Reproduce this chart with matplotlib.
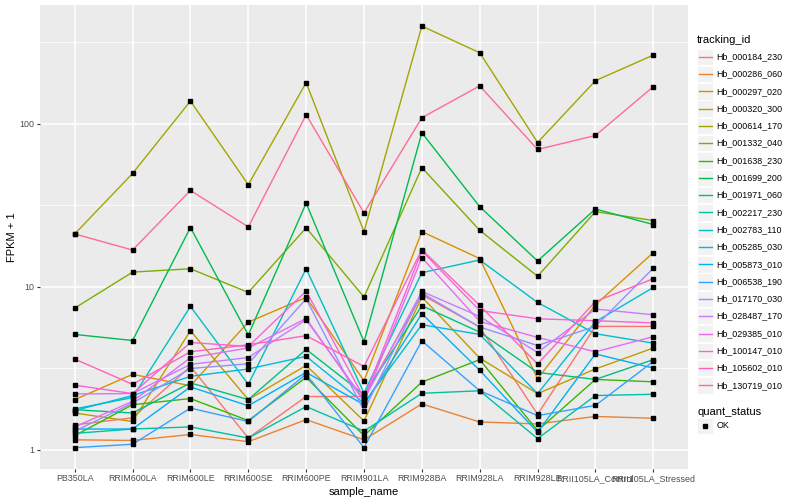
import numpy as np
import matplotlib.pyplot as plt
from matplotlib.patches import Rectangle
from matplotlib.lines import Line2D
from matplotlib.ticker import FixedLocator, NullFormatter

plt.rcParams["font.family"] = ["Liberation Sans", "DejaVu Sans"]

sample_names = ["PB350LA", "RRIM600LA", "RRIM600LE", "RRIM600SE", "RRIM600PE",
                "RRIM901LA", "RRIM928BA", "RRIM928LA", "RRIM928LE",
                "RRII105LA_Control", "RRII105LA_Stressed"]

tracking_ids = ["Hb_000184_230", "Hb_000286_060", "Hb_000297_020", "Hb_000320_300",
                "Hb_000614_170", "Hb_001332_040", "Hb_001638_230", "Hb_001699_200",
                "Hb_001971_060", "Hb_002217_230", "Hb_002783_110", "Hb_005285_030",
                "Hb_005873_010", "Hb_006538_190", "Hb_017170_030", "Hb_028487_170",
                "Hb_029385_010", "Hb_100147_010", "Hb_105602_010", "Hb_130719_010"]

# FPKM + 1, one list per gene, in sample order
hb_000184_230 = [1.42, 1.57, 3.24, 1.18, 2.12, 2.12, 8.93, 5.66, 1.65, 5.71, 5.71]
hb_000286_060 = [1.15, 1.14, 1.24, 1.12, 1.53, 1.15, 1.91, 1.48, 1.44, 1.60, 1.56]
hb_000297_020 = [2.03, 2.90, 2.47, 6.07, 8.60, 2.65, 21.8, 14.9, 2.73, 7.75, 16.2]
hb_000320_300 = [1.68, 1.49, 5.37, 2.03, 3.29, 1.50, 8.65, 3.65, 2.21, 3.13, 4.21]
hb_000614_170 = [21.1, 49.6, 138.0, 42.3, 179.0, 21.8, 398.0, 273.0, 76.8, 184.0, 264.0]
hb_001332_040 = [7.40, 12.3, 12.9, 9.23, 23.0, 8.65, 53.9, 22.2, 11.6, 28.9, 25.5]
hb_001638_230 = [1.22, 1.89, 2.06, 1.51, 2.78, 1.22, 2.60, 3.57, 1.31, 2.70, 2.61]
hb_001699_200 = [5.10, 4.68, 23.1, 5.06, 32.6, 4.60, 88.1, 31.0, 14.4, 30.0, 24.1]
hb_001971_060 = [1.76, 1.68, 2.57, 2.03, 4.13, 2.18, 7.65, 5.27, 2.98, 2.70, 3.57]
hb_002217_230 = [1.26, 1.34, 1.38, 1.18, 1.84, 1.30, 2.22, 2.30, 1.17, 2.15, 2.19]
hb_002783_110 = [1.78, 2.09, 7.57, 2.52, 12.9, 2.23, 12.2, 14.6, 8.01, 5.15, 4.51]
hb_005285_030 = [1.74, 2.15, 2.82, 3.13, 3.74, 1.93, 5.85, 5.10, 2.21, 6.10, 9.90]
hb_005873_010 = [1.34, 1.34, 2.43, 1.86, 2.98, 1.89, 6.83, 3.07, 1.28, 3.87, 3.17]
hb_006538_190 = [1.03, 1.08, 1.80, 1.49, 2.91, 1.03, 4.66, 2.30, 1.62, 1.87, 3.48]
hb_017170_030 = [1.30, 1.93, 3.15, 3.37, 8.44, 1.74, 9.15, 5.66, 4.36, 5.71, 13.0]
hb_028487_170 = [2.20, 2.21, 3.34, 3.68, 6.27, 2.03, 9.36, 6.57, 3.95, 7.30, 6.73]
hb_029385_010 = [1.38, 1.98, 3.67, 4.21, 6.39, 1.98, 15.1, 6.13, 4.89, 3.99, 4.94]
hb_100147_010 = [2.49, 2.21, 4.55, 4.30, 9.41, 2.08, 16.6, 7.15, 6.36, 6.19, 6.00]
hb_105602_010 = [3.60, 2.52, 3.99, 4.41, 5.01, 3.24, 16.9, 7.68, 3.36, 8.12, 11.2]
hb_130719_010 = [21.1, 16.8, 39.0, 23.3, 113.6, 28.4, 109.0, 171.0, 69.6, 84.8, 169.0]

series = [hb_000184_230, hb_000286_060, hb_000297_020, hb_000320_300, hb_000614_170,
          hb_001332_040, hb_001638_230, hb_001699_200, hb_001971_060, hb_002217_230,
          hb_002783_110, hb_005285_030, hb_005873_010, hb_006538_190, hb_017170_030,
          hb_028487_170, hb_029385_010, hb_100147_010, hb_105602_010, hb_130719_010]

# ggplot hue palette, 20 levels
colors = ["#F8766D", "#EA8331", "#D89000", "#C09B00", "#A3A500", "#7CAE00", "#39B600",
          "#00BB4E", "#00BF7D", "#00C1A3", "#00BFC4", "#00BAE0", "#00B0F6", "#35A2FF",
          "#9590FF", "#C77CFF", "#E76BF3", "#FA62DB", "#FF62BC", "#FF6C91"]

W, H = 800, 500


def fx(px):
    return px / W


def fy(py):
    return 1 - py / H


fig = plt.figure(figsize=(8, 5), dpi=100)
ax = fig.add_axes([fx(40), fy(468.7), fx(648), 463.7 / H])
ax.set_facecolor("#EBEBEB")

x = np.arange(len(sample_names))
for vals, col in zip(series, colors):
    ax.plot(x, vals, color=col, lw=1.0, zorder=3)
for vals in series:
    ax.plot(x, vals, ls="none", marker="s", ms=2.7, color="black", zorder=4)

# axis limits like ggplot (5% expansion on log scale, 0.6 on discrete)
logs = np.log10(np.concatenate([np.array(s) for s in series]))
pad = 0.05 * (logs.max() - logs.min())
ax.set_yscale("log")
ax.set_ylim(10 ** (logs.min() - pad), 10 ** (logs.max() + pad))
ax.set_xlim(-0.6, len(sample_names) - 1 + 0.6)

ax.yaxis.set_major_locator(FixedLocator([1, 10, 100]))
ax.set_yticklabels(["1", "10", "100"])
ax.yaxis.set_minor_locator(FixedLocator([10 ** 0.5, 10 ** 1.5, 10 ** 2.5]))
ax.yaxis.set_minor_formatter(NullFormatter())
ax.set_xticks(x)
ax.set_xticklabels(sample_names)

ax.grid(which="major", color="white", lw=1.1)
ax.grid(which="minor", axis="y", color="white", lw=0.55)
ax.set_axisbelow(True)
for sp in ax.spines.values():
    sp.set_visible(False)
ax.tick_params(which="major", length=2.2, width=0.8, color="#333333",
               labelcolor="#4D4D4D", labelsize=6.4, pad=1.8)
ax.tick_params(which="minor", length=0)

ax.set_xlabel("sample_name", fontsize=8, labelpad=2.5)
ax.set_ylabel("FPKM + 1", fontsize=8, labelpad=2)

# legend, drawn by hand in ggplot style
fig.text(fx(697), fy(40), "tracking_id", fontsize=8, ha="left", va="center")
for i, (tid, col) in enumerate(zip(tracking_ids, colors)):
    yc = 56.7 + i * 17.3
    fig.patches.append(Rectangle((fx(696.7), fy(yc + 8.2)), fx(16.5), 16.4 / H,
                                 transform=fig.transFigure, facecolor="#F2F2F2",
                                 edgecolor="white", lw=0.6))
    fig.lines.append(Line2D([fx(698.5), fx(711.5)], [fy(yc), fy(yc)],
                            transform=fig.transFigure, color=col, lw=1.0))
    fig.text(fx(716.7), fy(yc), tid, fontsize=6.4, ha="left", va="center")

fig.text(fx(697), fy(411.7), "quant_status", fontsize=8, ha="left", va="center")
fig.patches.append(Rectangle((fx(696.7), fy(434.2)), fx(16.5), 16.4 / H,
                             transform=fig.transFigure, facecolor="#F2F2F2",
                             edgecolor="white", lw=0.6))
fig.lines.append(Line2D([fx(705)], [fy(426)], transform=fig.transFigure,
                        ls="none", marker="s", ms=2.7, color="black"))
fig.text(fx(716.7), fy(426), "OK", fontsize=6.4, ha="left", va="center")

fig.savefig("out.png", dpi=100)
